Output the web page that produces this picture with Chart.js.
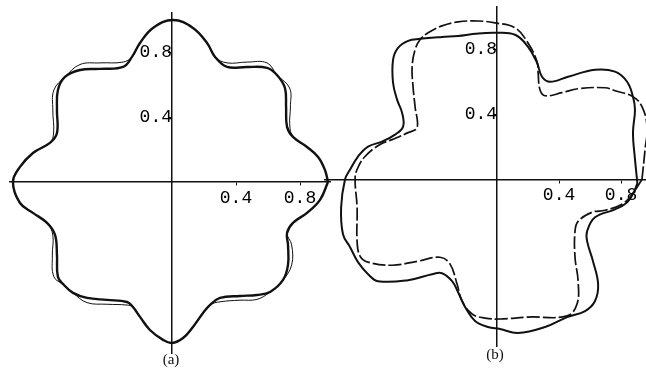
<!DOCTYPE html>
<html>
<head>
<meta charset="utf-8">
<script src="https://cdn.jsdelivr.net/npm/chart.js@4"></script>
<style>
  html, body { margin: 0; padding: 0; background: #fff; }
  body { width: 646px; height: 377px; position: relative; overflow: hidden; }
  canvas { position: absolute; top: 0; }
  #chartA { left: 0; }
  #chartB { left: 318px; }
  .cap { position: absolute; font: 15px "Liberation Serif", serif; color: #111; transform: translateX(-50%); }
</style>
</head>
<body>
<canvas id="chartA" width="340" height="377"></canvas>
<canvas id="chartB" width="328" height="377"></canvas>
<div class="cap" style="left:171px; top:351px">(a)</div>
<div class="cap" style="left:495px; top:346px">(b)</div>
<script>
// (a) eight-lobed contour, heavy line and thin line
var aMainX = [0.975,0.956,0.913,0.844,0.756,0.719,0.713,0.706,0.656,0.594,0.469,0.344,0.269,0.219,0.131,0.006,-0.119,-0.200,-0.250,-0.306,-0.450,-0.575,-0.669,-0.713,-0.719,-0.719,-0.763,-0.869,-0.950,-0.994,-0.950,-0.869,-0.781,-0.731,-0.719,-0.713,-0.675,-0.619,-0.531,-0.406,-0.281,-0.244,-0.200,-0.138,-0.056,0.000,0.069,0.131,0.194,0.238,0.300,0.425,0.531,0.613,0.694,0.725,0.725,0.719,0.756,0.844,0.925,0.975];
var aMainY = [0,0.074,0.154,0.216,0.278,0.340,0.463,0.580,0.660,0.704,0.710,0.710,0.772,0.858,0.951,1.000,0.951,0.858,0.772,0.710,0.698,0.691,0.648,0.568,0.444,0.302,0.241,0.179,0.093,0,-0.130,-0.191,-0.253,-0.327,-0.451,-0.586,-0.636,-0.685,-0.716,-0.728,-0.741,-0.772,-0.833,-0.914,-0.975,-0.994,-0.963,-0.895,-0.809,-0.759,-0.716,-0.704,-0.698,-0.679,-0.605,-0.512,-0.389,-0.315,-0.253,-0.191,-0.111,0];
var aThinX = [0.975,0.956,0.913,0.844,0.756,0.736,0.740,0.735,0.656,0.594,0.469,0.344,0.269,0.219,0.131,0.006,-0.119,-0.200,-0.250,-0.306,-0.450,-0.575,-0.669,-0.738,-0.745,-0.740,-0.763,-0.869,-0.950,-0.994,-0.950,-0.869,-0.781,-0.745,-0.748,-0.738,-0.675,-0.619,-0.531,-0.406,-0.281,-0.244,-0.200,-0.138,-0.056,0.000,0.069,0.131,0.194,0.238,0.300,0.425,0.531,0.613,0.694,0.748,0.748,0.719,0.756,0.844,0.925,0.975];
var aThinY = [0,0.074,0.154,0.216,0.278,0.352,0.463,0.580,0.660,0.735,0.740,0.735,0.772,0.858,0.951,1.000,0.951,0.858,0.772,0.740,0.735,0.725,0.648,0.568,0.444,0.302,0.241,0.179,0.093,0,-0.130,-0.191,-0.253,-0.327,-0.451,-0.586,-0.636,-0.685,-0.745,-0.755,-0.760,-0.772,-0.833,-0.914,-0.975,-0.994,-0.963,-0.895,-0.809,-0.759,-0.740,-0.730,-0.725,-0.679,-0.605,-0.512,-0.389,-0.315,-0.253,-0.191,-0.111,0];

// (b) four-lobed contour, solid and dashed
var bSolidX = [0.903,0.890,0.877,0.890,0.877,0.839,0.761,0.632,0.458,0.342,0.290,0.258,0.200,0.116,-0.013,-0.142,-0.252,-0.355,-0.497,-0.574,-0.639,-0.671,-0.671,-0.645,-0.613,-0.606,-0.658,-0.742,-0.832,-0.897,-0.948,-0.981,-1.006,-0.994,-0.948,-0.897,-0.832,-0.768,-0.574,-0.419,-0.355,-0.290,-0.252,-0.206,-0.142,-0.058,0.019,0.135,0.310,0.452,0.568,0.632,0.652,0.619,0.581,0.581,0.632,0.761,0.845,0.903,0.903];
var bSolidY = [0,0.123,0.288,0.429,0.509,0.601,0.663,0.675,0.632,0.601,0.632,0.718,0.816,0.890,0.902,0.896,0.883,0.877,0.865,0.853,0.810,0.736,0.595,0.491,0.411,0.325,0.276,0.233,0.202,0.141,0.061,0,-0.172,-0.337,-0.417,-0.509,-0.583,-0.626,-0.620,-0.583,-0.577,-0.626,-0.693,-0.785,-0.871,-0.908,-0.920,-0.945,-0.908,-0.847,-0.810,-0.748,-0.644,-0.503,-0.380,-0.319,-0.233,-0.184,-0.135,-0.031,0];
var bDashX = [0.935,0.955,0.968,0.935,0.877,0.761,0.697,0.523,0.419,0.310,0.277,0.265,0.258,0.200,0.116,-0.013,-0.123,-0.252,-0.355,-0.445,-0.497,-0.529,-0.548,-0.542,-0.529,-0.516,-0.574,-0.677,-0.755,-0.852,-0.903,-0.916,-0.903,-0.903,-0.884,-0.832,-0.677,-0.510,-0.368,-0.303,-0.258,-0.226,-0.161,-0.077,0.019,0.200,0.452,0.516,0.523,0.503,0.503,0.523,0.613,0.697,0.806,0.871,0.935];
var bDashY = [0,0.184,0.325,0.448,0.509,0.546,0.564,0.558,0.534,0.515,0.552,0.656,0.724,0.840,0.933,0.963,0.975,0.969,0.945,0.902,0.859,0.798,0.693,0.571,0.448,0.319,0.288,0.245,0.215,0.141,0.061,0,-0.172,-0.380,-0.472,-0.509,-0.528,-0.503,-0.479,-0.521,-0.644,-0.748,-0.828,-0.853,-0.859,-0.847,-0.840,-0.767,-0.626,-0.479,-0.319,-0.258,-0.202,-0.190,-0.153,-0.092,0];

var xTicks = [0.4, 0.8];
var yTicks = [0.4, 0.8];

var ink = '#111';

function pts(xs, ys) {
    return xs.map(function (x, i) { return { x: x, y: ys[i] }; });
}

function curve(xs, ys, width, dash) {
    return {
        data: pts(xs, ys),
        showLine: true,
        borderColor: ink,
        borderWidth: width,
        borderDash: dash || [],
        pointRadius: 0,
        tension: 0.4,
        clip: false
    };
}

function axis(tickValues, range) {
    return {
        type: 'linear',
        min: range[0],
        max: range[1],
        afterBuildTicks: function (s) { s.ticks = tickValues.map(function (v) { return { value: v }; }); },
        afterFit: function (s) { s.paddingTop = 0; s.paddingBottom = 0; s.paddingLeft = 0; s.paddingRight = 0; },
        grid: { display: true, drawOnChartArea: false, drawTicks: true, tickLength: 3, color: ink, lineWidth: 1 },
        border: { display: true, color: ink, width: 1.5 },
        ticks: {
            color: '#000',
            padding: 2,
            maxRotation: 0,
            font: { family: 'Liberation Mono', size: 18 },
            callback: function (v) { return v.toFixed(1); }
        }
    };
}

function panel(id, sets, xRange, yRange, pad) {
    var x = axis(xTicks, xRange);
    x.position = { y: 0 };
    var y = axis(yTicks, yRange);
    y.position = { x: 0 };
    return new Chart(document.getElementById(id), {
        type: 'scatter',
        data: { datasets: sets },
        options: {
            responsive: false,
            animation: false,
            layout: { padding: pad },
            plugins: { legend: { display: false }, tooltip: { enabled: false } },
            scales: { x: x, y: y }
        }
    });
}

panel('chartA',
    [curve(aThinX, aThinY, 1), curve(aMainX, aMainY, 2.4)],
    [-1.0125, 0.9875], [-1.056, 1.043],
    { left: 10, right: 10, top: 13, bottom: 24 });

panel('chartB',
    [curve(bDashX, bDashY, 1.7, [13, 3]), curve(bSolidX, bSolidY, 2)],
    [-1.110, 0.961], [-1.025, 1.061],
    { left: 7, right: 0, top: 7, bottom: 31 });
</script>
</body>
</html>
